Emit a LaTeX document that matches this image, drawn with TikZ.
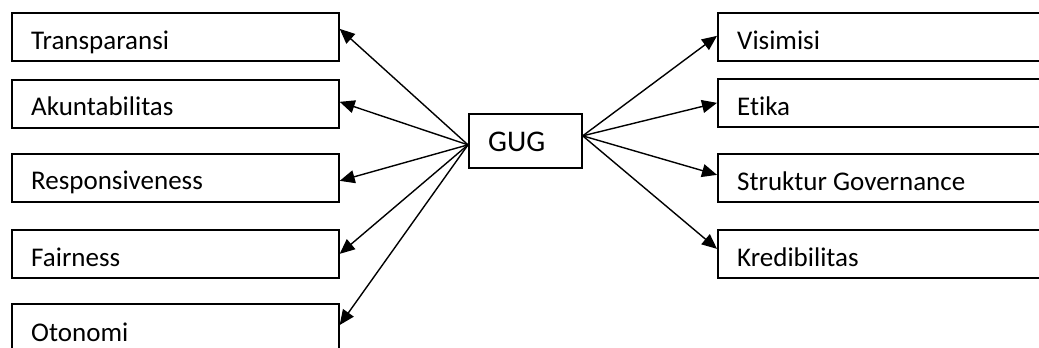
\documentclass[tikz,border=0pt]{standalone}
\usepackage{fontspec}
\setmainfont{Carlito}[Ligatures=NoCommon]
\usetikzlibrary{arrows.meta,calc}
\begin{document}
\begin{tikzpicture}[x=1pt,y=-1pt,
  box/.style={draw,line width=1.7pt,rectangle,anchor=north west,inner sep=0pt,
              minimum width=327pt,minimum height=48pt},
  rbox/.style={box,minimum width=340pt},
  lbl/.style={anchor=base west,inner sep=0pt,font=\fontsize{27}{32}\selectfont},
  arr/.style={line width=1.4pt,-{Triangle[length=15pt,width=13pt]}}]
\clip (0,0) rectangle (1039,348);
\useasboundingbox (0,0) rectangle (1039,348);

% left column
\node[box] (b1) at (11,12) {};
\node[box] (b2) at (11,79) {};
\node[box] (b3) at (11,153) {};
\node[box] (b4) at (11,229) {};
\node[box,minimum height=70pt] (b5) at (11,303) {};
\node[lbl] (t1) at (31,49) {Transparansi};
\node[lbl] (t2) at (31,115) {Akuntabilitas};
\node[lbl] (t3) at (31,189) {Responsiveness};
\node[lbl] (t4) at (31,266) {Fairness};
\node[lbl] (t5) at (31,341) {Otonomi};

% centre
\node[draw,line width=1.7pt,anchor=north west,inner sep=0pt,
      minimum width=113pt,minimum height=54pt] (g) at (468,113) {};
\node[lbl,font=\fontsize{30}{32}\selectfont] (gt) at (488,151) {GUG};

% right column
\node[rbox] (r1) at (717,12) {};
\node[rbox] (r2) at (717,78) {};
\node[rbox] (r3) at (717,153) {};
\node[rbox] (r4) at (717,229) {};
\node[lbl] (s1) at (737,49) {Visimisi};
\node[lbl] (s2) at (737,115) {Etika};
\node[lbl] (s3) at (737,190) {Struktur Governance};
\node[lbl] (s4) at (737,266) {Kredibilitas};

% connectors
\coordinate (gl) at ($(g.west)+(0,4)$);
\coordinate (gr) at ($(g.east)+(0,-5)$);
\draw[arr] (gl) -- ($(b1.east)+(0,-8)$);
\draw[arr] (gl) -- ($(b2.east)+(0,-2)$);
\draw[arr] (gl) -- ($(b3.east)+(0,3)$);
\draw[arr] (gl) -- (b4.east);
\draw[arr] (gl) -- (b5.north east |- 0,325);
\draw[arr] (gr) -- ($(r1.west)+(0,-1)$);
\draw[arr] (gr) -- (r2.west);
\draw[arr] (gr) -- ($(r3.west)+(0,-3)$);
\draw[arr] (gr) -- ($(r4.west)+(0,-5)$);
\end{tikzpicture}
\end{document}
